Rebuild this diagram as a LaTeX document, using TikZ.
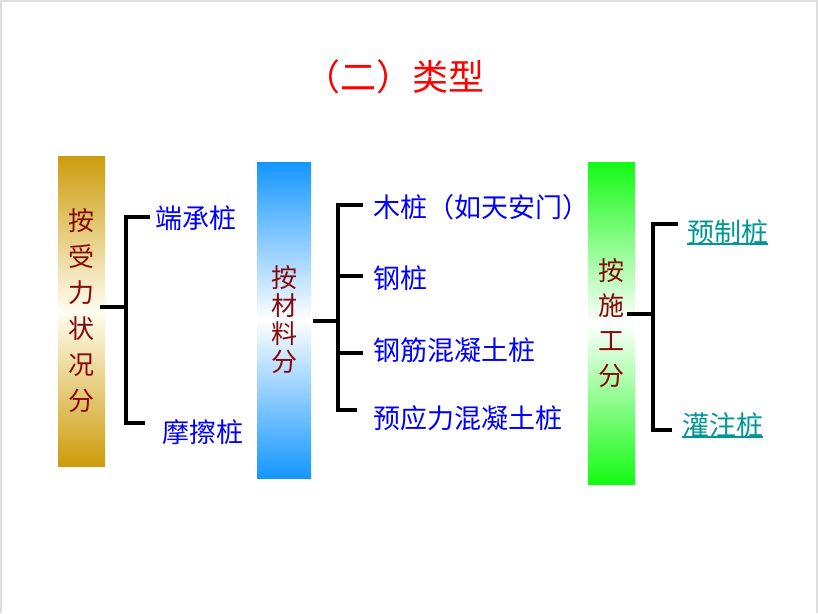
\documentclass[tikz,border=0pt]{standalone}
\usepackage{fontspec}
\setmainfont{Noto Sans CJK SC}
\definecolor{goldc}{RGB}{205,155,12}
\definecolor{goldm}{RGB}{255,253,240}
\definecolor{bluec}{RGB}{20,150,255}
\definecolor{greenc}{RGB}{20,250,20}
\definecolor{boxtext}{RGB}{135,10,10}
\definecolor{lblue}{RGB}{0,0,255}
\definecolor{lteal}{RGB}{0,150,150}
\definecolor{frame}{RGB}{222,222,222}
\tikzset{
  pilebox/.style={rectangle, inner sep=0pt, align=center, text=boxtext},
  leaf/.style={anchor=west, inner sep=0pt, text=lblue, font=\fontsize{27}{30}\selectfont},
  linkleaf/.style={anchor=west, inner sep=0pt, text=lteal, font=\fontsize{27}{30}\selectfont},
  conn/.style={line width=3.2pt, black},
}
\begin{document}
\begin{tikzpicture}[x=1pt,y=-1pt]
\useasboundingbox (0,0) rectangle (818,613);
\fill[white] (0,0) rectangle (818,613);
\draw[frame, line width=2pt] (1,613) -- (1,1) -- (817,1) -- (817,613);

% title
\node[text=red, font=\fontsize{36}{40}\selectfont] (title) at (394,77) {（二）类型};

% boxes
\node[pilebox, minimum width=47pt, minimum height=310pt,
      top color=goldc, bottom color=goldc, middle color=goldm,
      font=\fontsize{26}{36}\selectfont] (b1) at (81.5,311) {按\\受\\力\\状\\况\\分};
\node[pilebox, minimum width=54pt, minimum height=316pt,
      top color=bluec, bottom color=bluec, middle color=white,
      font=\fontsize{26}{28}\selectfont] (b2) at (284,320) {按\\材\\料\\分};
\node[pilebox, minimum width=47pt, minimum height=322pt,
      top color=greenc, bottom color=greenc, middle color=white,
      font=\fontsize{26}{35}\selectfont] (b3) at (611.5,323) {按\\施\\工\\分};

% leaves group 1
\node[leaf] (l1a) at (155,218) {端承桩};
\node[leaf] (l1b) at (162,432) {摩擦桩};
% leaves group 2
\node[leaf] (l2a) at (373,207) {木桩（如天安门）};
\node[leaf] (l2b) at (373,278) {钢桩};
\node[leaf] (l2c) at (373,350) {钢筋混凝土桩};
\node[leaf] (l2d) at (373,418) {预应力混凝土桩};
% leaves group 3
\node[linkleaf] (l3a) at (687,232) {预制桩};
\node[linkleaf] (l3b) at (682,425) {灌注桩};
\draw[lteal, line width=1.3pt] ([yshift=-12pt]l3a.west) -- ([yshift=-12pt]l3a.east);
\draw[lteal, line width=1.3pt] ([yshift=-12pt]l3b.west) -- ([yshift=-12pt]l3b.east);

% connectors group 1
\coordinate (j1) at (126,307);
\coordinate (e1a) at (150,217);
\coordinate (e1b) at (145,423);
\draw[conn] ([xshift=-5pt]b1.east |- j1) -- (j1);
\draw[conn] (e1a) -| (j1) |- (e1b);

% connectors group 2
\coordinate (j2) at (338,321);
\coordinate (e2a) at (363,205);
\coordinate (e2b) at (363,276);
\coordinate (e2c) at (363,353);
\coordinate (e2d) at (357,410);
\draw[conn] ([xshift=2pt]b2.east |- j2) -- (j2);
\draw[conn] (e2a) -| (j2) |- (e2d);
\draw[conn] (e2b) -- (e2b -| j2);
\draw[conn] (e2c) -- (e2c -| j2);

% connectors group 3
\coordinate (j3) at (653,314);
\coordinate (e3a) at (678,224);
\coordinate (e3b) at (672,430);
\draw[conn] ([xshift=-8pt]b3.east |- j3) -- (j3);
\draw[conn] (e3a) -| (j3) |- (e3b);
\end{tikzpicture}
\end{document}
